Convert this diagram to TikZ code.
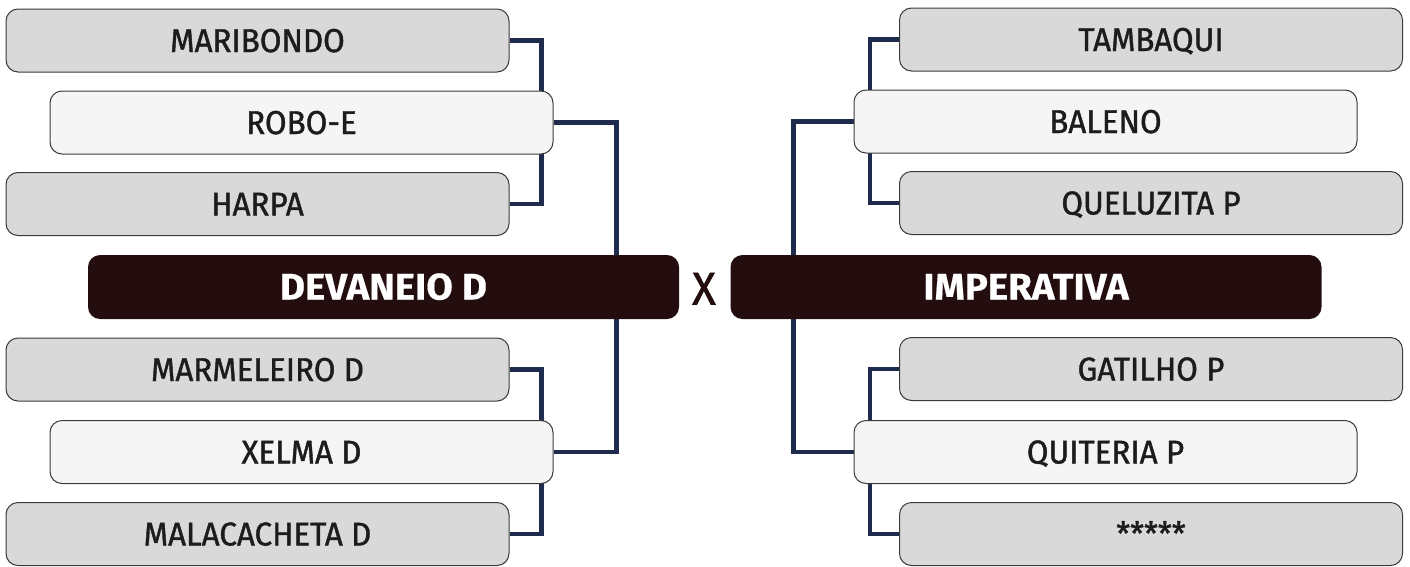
\documentclass[tikz,border=0pt]{standalone}
\usepackage{fontspec}
\setmainfont{Fira Sans}[FakeStretch=0.95, FakeBold=1.2, BoldFeatures={FakeStretch=1.04, FakeBold=0.4}]
\usetikzlibrary{backgrounds}
\definecolor{grayfill}{HTML}{D9D9D9}
\definecolor{lightfill}{HTML}{F5F5F5}
\definecolor{darkfill}{HTML}{230D0E}
\definecolor{navy}{HTML}{1F2B4D}
\definecolor{edgecol}{HTML}{3A3A3A}
\definecolor{txt}{HTML}{1C1C1C}
\begin{document}
\begin{tikzpicture}[x=1pt,y=-1pt,
  box/.style={draw=edgecol, line width=1pt, rounded corners=12pt, minimum width=503pt,
    minimum height=63pt, inner sep=0pt, text height=23pt, text depth=0pt,
    font=\fontsize{33}{33}\selectfont, text=txt},
  graybox/.style={box, fill=grayfill},
  lightbox/.style={box, fill=lightfill},
  finalbox/.style={box, draw=none, fill=darkfill, text=white, minimum width=591pt,
    minimum height=64pt, text height=25pt, font=\fontsize{37}{37}\selectfont\bfseries},
  link/.style={draw=navy, line width=4.3pt}]
\useasboundingbox (0,0) rectangle (1410,566);
% left side
\node[graybox]  (mar)  at (257.5,40.5) {MARIBONDO};
\node[lightbox] (rob)  at (301.5,122.5) {ROBO-E};
\node[graybox]  (har)  at (257.5,204) {HARPA};
\node[finalbox] (dev)  at (383.5,287) {DEVANEIO D};
\node[graybox]  (mrm)  at (257.5,369.5) {MARMELEIRO D};
\node[lightbox] (xel)  at (301.5,452) {XELMA D};
\node[graybox]  (mal)  at (257.5,534) {MALACACHETA D};
% right side
\node[graybox]  (tam)  at (1151,39.5) {TAMBAQUI};
\node[lightbox] (bal)  at (1105.5,121.5) {BALENO};
\node[graybox]  (que)  at (1151,203) {QUELUZITA P};
\node[finalbox] (imp)  at (1026,287) {IMPERATIVA};
\node[graybox]  (gat)  at (1151,369) {GATILHO P};
\node[lightbox] (qui)  at (1105.5,452) {QUITERIA P};
\node[graybox]  (stars) at (1151,534) {*****};
% vs
\node[inner sep=0pt, text=darkfill, text height=33pt, text depth=0pt,
  font=\fontsize{46}{46}\selectfont] (vs) at (704,288) {X};
\begin{scope}[on background layer]
\draw[link] (mar.east) -- ++(32,0) |- (har.east);
\draw[link] (rob.east) -- ++(63,0) |- (xel.east);
\draw[link] (mrm.east) -- ++(32,0) |- (mal.east);
\draw[link] (tam.west) -- ++(-29,0) |- (que.west);
\draw[link] (bal.west) -- ++(-60,0) |- (qui.west);
\draw[link] (gat.west) -- ++(-29,0) |- (stars.west);
\end{scope}
\end{tikzpicture}
\end{document}
